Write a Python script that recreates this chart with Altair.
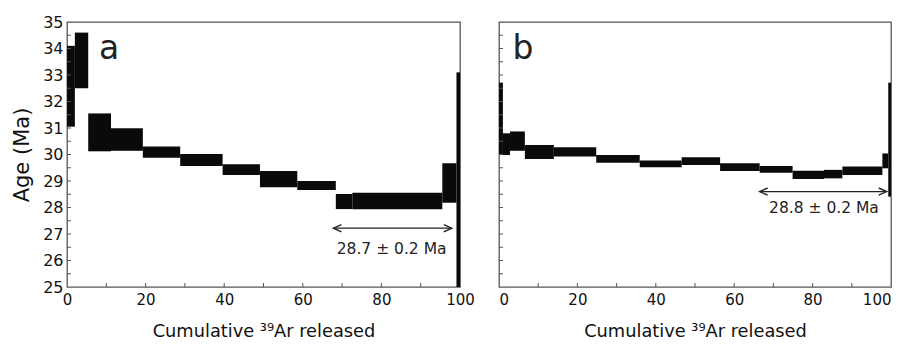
import altair as alt
import pandas as pd

# ---- Panel a steps (cumulative 39Ar %, age bounds in Ma)
a_x0 = [0.0, 2.0, 5.4, 11.2, 19.3, 28.8, 39.6, 49.1, 58.6, 68.4, 72.6, 95.5, 99.1]
a_x1 = [2.0, 5.4, 11.2, 19.3, 28.8, 39.6, 49.1, 58.6, 68.4, 72.6, 95.5, 99.1, 100.0]
a_lo = [31.05, 32.5, 30.12, 30.14, 29.88, 29.57, 29.23, 28.76, 28.66, 27.94, 27.93, 28.18, 25.0]
a_hi = [34.10, 34.6, 31.55, 30.99, 30.30, 30.02, 29.63, 29.38, 29.00, 28.51, 28.56, 29.67, 33.1]

# ---- Panel b steps
b_x0 = [0.0, 1.0, 2.8, 6.6, 14.0, 24.8, 35.9, 46.6, 56.4, 66.5, 74.9, 82.9, 87.6, 97.8, 99.3]
b_x1 = [1.0, 2.8, 6.6, 14.0, 24.8, 35.9, 46.6, 56.4, 66.5, 74.9, 82.9, 87.6, 97.8, 99.3, 100.0]
b_lo = [29.98, 29.98, 30.14, 29.83, 29.92, 29.69, 29.52, 29.60, 29.38, 29.31, 29.08, 29.10, 29.23, 29.48, 28.41]
b_hi = [32.71, 30.80, 30.87, 30.36, 30.27, 29.98, 29.77, 29.90, 29.67, 29.57, 29.39, 29.42, 29.55, 30.04, 32.71]

# ---- plateau annotations
a_arrow = {"x0": 67.8, "x1": 97.9, "y": 27.22, "tx": 82.6, "ty": 26.45, "text": "28.7 ± 0.2 Ma"}
b_arrow = {"x0": 66.5, "x1": 98.9, "y": 28.60, "tx": 82.9, "ty": 27.97, "text": "28.8 ± 0.2 Ma"}

x_labels = [0, 20, 40, 60, 80, 100]
x_ticks = [10, 20, 30, 40, 50, 60, 70, 80, 90]
y_labels = [25, 26, 27, 28, 29, 30, 31, 32, 33, 34, 35]
y_ticks = [25.5 + 0.5 * i for i in range(19)]

FONT = "DejaVu Sans"
W_A, W_B, H = 393, 392, 265
INK = "#0a0a0a"
FRAME = "#555555"
XTITLE = "Cumulative ³⁹Ar released"


def panel(x0, x1, lo, hi, ann, letter, letter_x, width, show_y, flush):
    df = pd.DataFrame({"x0": x0, "x1": x1, "lo": lo, "hi": hi})
    xs = alt.Scale(domain=[0, 100], nice=False, zero=False)
    ys = alt.Scale(domain=[25, 35], nice=False, zero=False)
    xaxis = alt.Axis(values=x_labels, ticks=False, grid=False, domain=False,
                     labelFontSize=15, labelPadding=5, labelFont=FONT, labelOverlap=False,
                     labelFlush=flush, labelBound=False,
                     title=XTITLE, titleFontSize=17.8, titleFont=FONT,
                     titleFontWeight="normal", titlePadding=15, labelColor="#111",
                     titleColor="#111")
    if show_y:
        yaxis = alt.Axis(values=y_labels, ticks=False, grid=False, domain=False,
                         labelFontSize=16, labelPadding=4, labelFont=FONT, labelOverlap=False,
                         labelBound=False, labelFlush=False,
                         title="Age (Ma)", titleFontSize=21, titleFont=FONT,
                         titleFontWeight="normal", titlePadding=10, labelColor="#111",
                         titleColor="#111")
    else:
        yaxis = None

    def X(f):
        return alt.X(f, scale=xs, axis=xaxis, title=XTITLE)

    def Y(f):
        if show_y:
            return alt.Y(f, scale=ys, axis=yaxis, title="Age (Ma)")
        return alt.Y(f, scale=ys, axis=None)

    rects = alt.Chart(df).mark_rect(color=INK, clip=True).encode(
        x=X("x0:Q"), x2="x1:Q", y=Y("lo:Q"), y2="hi:Q",
    )
    yt = alt.Chart(pd.DataFrame({"v": y_ticks})).mark_rule(color=FRAME, strokeWidth=1).encode(
        y=Y("v:Q"), x=alt.value(0), x2=alt.value(4)
    )
    xt = alt.Chart(pd.DataFrame({"v": x_ticks})).mark_rule(color=FRAME, strokeWidth=1).encode(
        x=X("v:Q"), y=alt.value(H), y2=alt.value(H - 4)
    )
    adf = pd.DataFrame([ann])
    shaft = alt.Chart(adf).mark_rule(color="#222", strokeWidth=1.4).encode(
        x=X("x0:Q"), x2="x1:Q", y=Y("y:Q")
    )
    head_r = alt.Chart(adf).mark_point(
        shape="M -2 -0.9 L 0 0 L -2 0.9", filled=False, size=64, color="#222",
        strokeWidth=1.4, opacity=1
    ).encode(x=X("x1:Q"), y=Y("y:Q"))
    head_l = alt.Chart(adf).mark_point(
        shape="M 2 -0.9 L 0 0 L 2 0.9", filled=False, size=64, color="#222",
        strokeWidth=1.4, opacity=1
    ).encode(x=X("x0:Q"), y=Y("y:Q"))
    txt = alt.Chart(adf).mark_text(font=FONT, fontSize=15.5, color="#222").encode(
        x=X("tx:Q"), y=Y("ty:Q"), text="text:N"
    )
    lab = alt.Chart(pd.DataFrame({"t": [letter]})).mark_text(
        font=FONT, fontSize=33, color="#222", align="center", baseline="alphabetic"
    ).encode(x=alt.value(letter_x), y=alt.value(37), text="t:N")
    return alt.layer(rects, yt, xt, shaft, head_r, head_l, txt, lab).properties(
        width=width, height=H
    )


pa = panel(a_x0, a_x1, a_lo, a_hi, a_arrow, "a", 42, W_A, True, False)
pb = panel(b_x0, b_x1, b_lo, b_hi, b_arrow, "b", 24, W_B, False, True)

chart = alt.hconcat(pa, pb, spacing=39, bounds="flush").configure_view(
    stroke=FRAME, strokeWidth=1.3
).properties(padding={"left": 2, "top": 5, "right": 0, "bottom": 0}, background="white")

chart.save("out.html", embed_options={"renderer": "svg", "actions": False})
